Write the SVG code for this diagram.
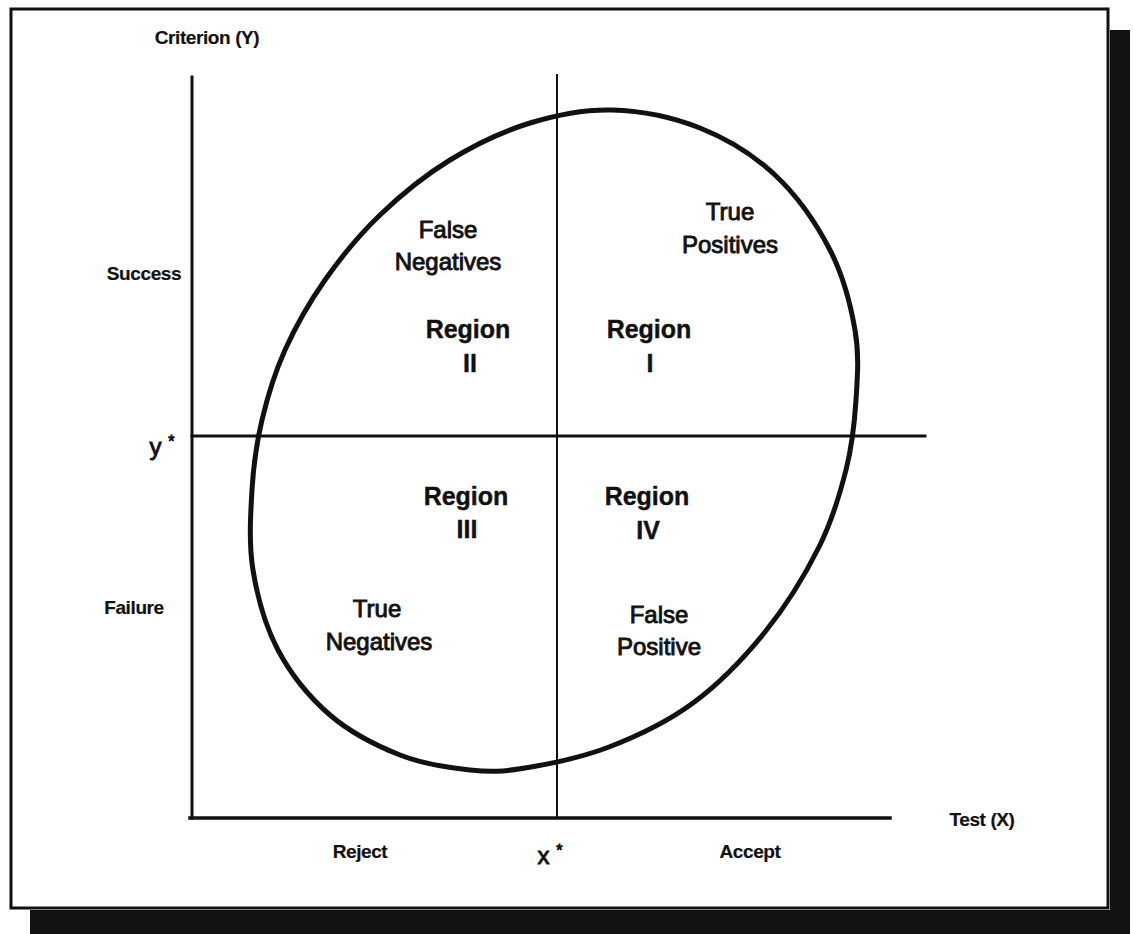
<svg xmlns="http://www.w3.org/2000/svg" width="1133" height="934" viewBox="0 0 1133 934">
<style>
.lbl{font-family:"Liberation Sans",Arial,Helvetica,sans-serif;fill:#111;stroke:#111;text-anchor:middle}
.ax{font-size:19px;font-weight:bold;letter-spacing:-0.4px;stroke-width:0.2}
.q{font-size:24px;stroke-width:0.9}
.rg{font-size:25px;font-weight:bold;stroke-width:0.4}
.ln{stroke:#111;fill:none;stroke-linecap:square}
</style>
<rect x="0" y="0" width="1133" height="934" fill="#fff"/>
<g id="shadow">
<rect x="1110" y="30" width="20" height="904" fill="#121212"/>
<rect x="30" y="910" width="1100" height="24" fill="#121212"/>
</g>
<g id="frame">
<rect x="11" y="9" width="1097" height="899" fill="#fff" stroke="#111" stroke-width="3"/>
</g>
<g id="connectors">
<line class="ln" x1="192" y1="77" x2="192" y2="818" stroke-width="3"/>
<line class="ln" x1="190" y1="818" x2="890" y2="818" stroke-width="3.5"/>
<line class="ln" x1="557" y1="75" x2="557" y2="818" stroke-width="2"/>
<line class="ln" x1="192" y1="436" x2="925" y2="436" stroke-width="3"/>
</g>
<g id="ellipse">
<path class="ln" stroke-width="5" d="M612,110 C640.3,110.8 672.8,117.2 700,128 C727.2,138.8 753.3,154.7 775,175 C796.7,195.3 816.7,224.2 830,250 C843.3,275.8 850.7,305 855,330 C859.3,355 857.5,376.7 856,400 C854.5,423.3 852.2,445.5 846,470 C839.8,494.5 832.5,520 819,547 C805.5,574 786,606 765,632 C744,658 719,683.8 693,703 C667,722.2 637,736.2 609,747 C581,757.8 548.2,764.2 525,768 C501.8,771.8 490.8,772.2 470,770 C449.2,767.8 423.3,764.2 400,755 C376.7,745.8 350.3,732.5 330,715 C309.7,697.5 290.8,674.2 278,650 C265.2,625.8 257.3,596.7 253,570 C248.7,543.3 250.5,515 252,490 C253.5,465 256.5,443.3 262,420 C267.5,396.7 274.5,373.3 285,350 C295.5,326.7 309.2,302.5 325,280 C340.8,257.5 359.2,235 380,215 C400.8,195 425,175.3 450,160 C475,144.7 503,131.3 530,123 C557,114.7 583.7,109.2 612,110 Z"/>
</g>
<g id="axis-labels">
<text class="lbl ax" x="207" y="44">Criterion (Y)</text>
<text class="lbl ax" x="982" y="826">Test (X)</text>
<text class="lbl ax" x="144" y="280">Success</text>
<text class="lbl ax" x="134" y="614">Failure</text>
<text class="lbl q" x="162" y="455">y <tspan font-size="16" dy="-8">*</tspan></text>
<text class="lbl ax" x="360" y="858">Reject</text>
<text class="lbl q" x="550" y="864">x <tspan font-size="16" dy="-8">*</tspan></text>
<text class="lbl ax" x="750" y="858">Accept</text>
</g>
<g id="region-I">
<text class="lbl q" x="730" y="220">True</text>
<text class="lbl q" x="730" y="253">Positives</text>
<text class="lbl rg" x="649" y="338">Region</text>
<text class="lbl rg" x="650" y="372">I</text>
</g>
<g id="region-II">
<text class="lbl q" x="448" y="238">False</text>
<text class="lbl q" x="448" y="270">Negatives</text>
<text class="lbl rg" x="468" y="338">Region</text>
<text class="lbl rg" x="470" y="372">II</text>
</g>
<g id="region-III">
<text class="lbl rg" x="466" y="505">Region</text>
<text class="lbl rg" x="467" y="538">III</text>
<text class="lbl q" x="377" y="617">True</text>
<text class="lbl q" x="379" y="650">Negatives</text>
</g>
<g id="region-IV">
<text class="lbl rg" x="647" y="505">Region</text>
<text class="lbl rg" x="648" y="539">IV</text>
<text class="lbl q" x="659" y="623">False</text>
<text class="lbl q" x="659" y="655">Positive</text>
</g>
</svg>
